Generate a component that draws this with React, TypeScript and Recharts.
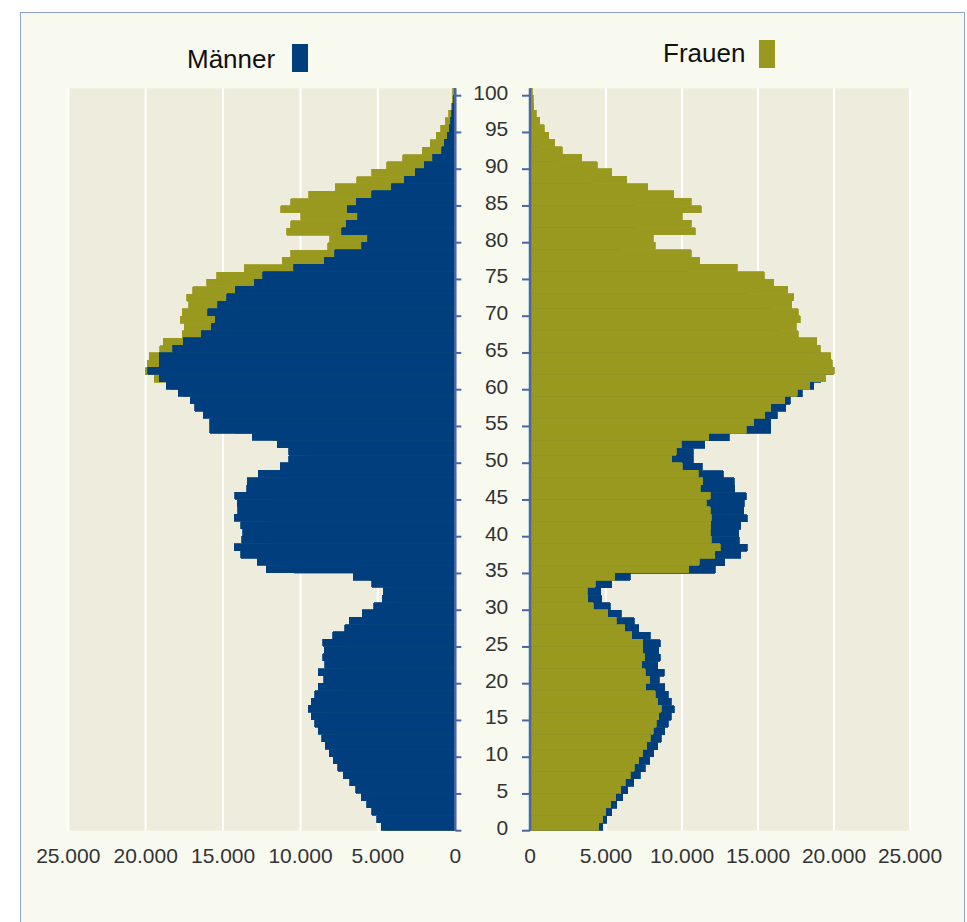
import React from 'react';
import { BarChart, Bar, XAxis, YAxis, CartesianGrid } from 'recharts';

const BLUE = '#003e7d';
const OLIVE = '#98991e';
const AXIS = '#4a66a3';
const TEXT = '#333333';
const PLOT_BG = '#eeecdc';
const PAGE_BG = '#f8faf0';
const FONT = '"Liberation Sans", Arial, sans-serif';

// ages 0..100 (one bar per year)
const AGES = Array.from({ length: 101 }, (_, i) => i);

// Männer, ages 0..100
const MEN = [
  4790, 5060, 5390, 5720, 6090, 6440, 6810, 7250, 7580, 7870,
  8130, 8400, 8640, 8860, 9080, 9300, 9500, 9300, 9080, 8860,
  8510, 8840, 8420, 8570, 8460, 8570, 7910, 7140, 6860, 6000,
  5280, 4730, 4660, 5390, 6590, 12200, 12810, 13850, 14290, 13780,
  13740, 13850, 14290, 14050, 14090, 14240, 13470, 13430, 12730, 11320,
  10750, 10750, 11500, 13120, 15850, 15850, 16270, 16820, 17120, 17910,
  18660, 19140, 19870, 19140, 19140, 18250, 17590, 16400, 15780, 15500,
  15980, 15330, 14750, 14210, 12990, 12450, 10450, 8450, 7800, 6040,
  5650, 7330, 7050, 6300, 6970, 6400, 5400, 4150, 3290, 2600,
  2020, 1460, 880, 700, 520, 400, 300, 220, 150, 100,
  50,
];

// Frauen, ages 0..100
const WOMEN = [
  4510, 4770, 4990, 5320, 5650, 5980, 6260, 6590, 6860, 7140,
  7410, 7690, 7910, 8110, 8310, 8460, 8620, 8420, 8240, 7630,
  7870, 7580, 7360, 7540, 7430, 7430, 6700, 6220, 5670, 5100,
  4150, 3800, 3780, 4290, 5560, 10440, 11140, 12160, 12510, 11940,
  11850, 11890, 11940, 11870, 11610, 11870, 11210, 11360, 11060, 10000,
  9340, 9610, 9960, 11760, 14240, 14730, 15450, 15850, 16750, 17580,
  18400, 19450, 20020, 19890, 19780, 19100, 18880, 17650, 17520, 17780,
  17650, 17210, 17340, 16970, 16050, 15410, 13630, 11170, 10620, 8240,
  8110, 10880, 10620, 10000, 11280, 10620, 9470, 7740, 6370, 5390,
  4420, 3390, 2130, 1630, 1230, 950, 640, 420, 260, 200,
  150,
];

const X_TICKS = [0, 5000, 10000, 15000, 20000, 25000];

const rows = AGES.map((age, i) => ({ age, men: MEN[i], women: WOMEN[i] }));

const PLOT_TOP = 88.35;
const PLOT_BOTTOM = 830.7;
const BAND = (PLOT_BOTTOM - PLOT_TOP) / AGES.length;

const fmt = (v: number) => String(v).replace(/\B(?=(\d{3})+(?!\d))/g, '.');

const LeftAgeTick = (props: any) => {
  const { x, y, payload } = props;
  const age = Number(payload.value);
  if (age % 5 !== 0) return <g />;
  const yb = y + BAND / 2;
  return (
    <g>
      <line x1={x} x2={x + 6} y1={yb} y2={yb} stroke={AXIS} strokeWidth={2} />
      <text x={x + 53} y={y} textAnchor="end" dominantBaseline="central" fontSize={21} fill={TEXT}>
        {age}
      </text>
    </g>
  );
};

const RightAgeTick = (props: any) => {
  const { x, y, payload } = props;
  const age = Number(payload.value);
  if (age % 5 !== 0) return <g />;
  const yb = y + BAND / 2;
  return <line x1={x - 8} x2={x} y1={yb} y2={yb} stroke={AXIS} strokeWidth={2} />;
};

const App: React.FC = () => {
  const xTick = { fill: TEXT, fontSize: 21 };
  return (
    <div style={{ position: 'absolute', left: 0, top: 0, width: 967, height: 922, background: '#fff', fontFamily: FONT, overflow: 'hidden' }}>
      <div style={{ position: 'absolute', left: 20, top: 12, width: 945, height: 930, background: PAGE_BG, border: '1.5px solid #8ea3c9', boxSizing: 'border-box' }} />

      <svg width={967} height={100} style={{ position: 'absolute', left: 0, top: 0 }}>
        <text x={187} y={68} fontSize={26} fill="#111">Männer</text>
        <rect x={292} y={44} width={16} height={28} fill={BLUE} />
        <text x={663} y={62} fontSize={26} fill="#111">Frauen</text>
        <rect x={759} y={40} width={16} height={28} fill={OLIVE} />
      </svg>

      {/* Männer */}
      <div style={{ position: 'absolute', left: 0, top: 0 }}>
        <BarChart
          width={520}
          height={922}
          data={rows}
          layout="vertical"
          margin={{ top: PLOT_TOP, right: 4.7, bottom: 51.3, left: 68.3 }}
          barCategoryGap={0}
          barGap="-100%"
        >
          <CartesianGrid horizontal={false} stroke="#ffffff" strokeWidth={2} fill={PLOT_BG} />
          <XAxis
            type="number"
            domain={[0, 25000]}
            ticks={X_TICKS}
            reversed
            interval={0}
            axisLine={false}
            tickLine={false}
            tickSize={0}
            tickMargin={17}
            height={40}
            tick={xTick}
            tickFormatter={fmt}
          />
          <YAxis
            type="category"
            dataKey="age"
            orientation="right"
            reversed
            width={60}
            interval={0}
            tickLine={false}
            tickSize={0}
            tickMargin={0}
            axisLine={{ stroke: AXIS, strokeWidth: 2.5 }}
            tick={(p: any) => <LeftAgeTick {...p} />}
          />
          <Bar dataKey="women" fill={OLIVE} stroke={OLIVE} strokeWidth={0.8} shapeRendering="crispEdges" isAnimationActive={false} />
          <Bar dataKey="men" fill={BLUE} stroke={BLUE} strokeWidth={0.8} shapeRendering="crispEdges" isAnimationActive={false} />
        </BarChart>
      </div>

      {/* Frauen */}
      <div style={{ position: 'absolute', left: 515, top: 0 }}>
        <BarChart
          width={452}
          height={922}
          data={rows}
          layout="vertical"
          margin={{ top: PLOT_TOP, right: 57, bottom: 51.3, left: 5 }}
          barCategoryGap={0}
          barGap="-100%"
        >
          <CartesianGrid horizontal={false} stroke="#ffffff" strokeWidth={2} fill={PLOT_BG} />
          <XAxis
            type="number"
            domain={[0, 25000]}
            ticks={X_TICKS}
            interval={0}
            axisLine={false}
            tickLine={false}
            tickSize={0}
            tickMargin={17}
            height={40}
            tick={xTick}
            tickFormatter={fmt}
          />
          <YAxis
            type="category"
            dataKey="age"
            orientation="left"
            reversed
            width={10}
            interval={0}
            tickLine={false}
            tickSize={0}
            tickMargin={0}
            axisLine={{ stroke: AXIS, strokeWidth: 2.5 }}
            tick={(p: any) => <RightAgeTick {...p} />}
          />
          <Bar dataKey="men" fill={BLUE} stroke={BLUE} strokeWidth={0.8} shapeRendering="crispEdges" isAnimationActive={false} />
          <Bar dataKey="women" fill={OLIVE} stroke={OLIVE} strokeWidth={0.8} shapeRendering="crispEdges" isAnimationActive={false} />
        </BarChart>
      </div>
    </div>
  );
};

export default App;
